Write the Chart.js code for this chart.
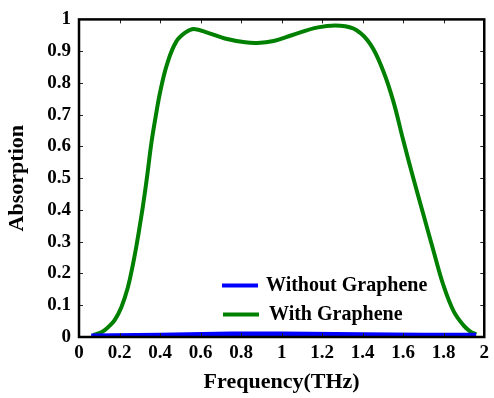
<!DOCTYPE html>
<html>
<head>
<meta charset="utf-8">
<script src="https://cdn.jsdelivr.net/npm/chart.js@4/dist/chart.umd.min.js"></script>
<style>
  html, body { margin: 0; padding: 0; background: #fff; }
  #wrap { width: 494px; height: 398px; }
</style>
</head>
<body>
<div id="wrap"><canvas id="c" width="494" height="398"></canvas></div>
<script>
  // values
  var xTicks = [0, 0.2, 0.4, 0.6, 0.8, 1, 1.2, 1.4, 1.6, 1.8, 2];
  var yTicks = [0, 0.1, 0.2, 0.3, 0.4, 0.5, 0.6, 0.7, 0.8, 0.9, 1];

  var withFreq = [0.07, 0.10, 0.127, 0.152, 0.176, 0.209, 0.241, 0.266, 0.287, 0.303, 0.315,
    0.337, 0.357, 0.38, 0.40, 0.435, 0.48, 0.528, 0.567, 0.64, 0.72, 0.82, 0.88, 0.96, 1.05,
    1.18, 1.29, 1.37, 1.44, 1.50, 1.55, 1.60, 1.65, 1.70, 1.75, 1.80, 1.85, 1.90, 1.93, 1.96];
  var withAbs = [0.006, 0.012, 0.022, 0.036, 0.053, 0.094, 0.156, 0.228, 0.30, 0.362, 0.41,
    0.51, 0.61, 0.70, 0.77, 0.86, 0.93, 0.96, 0.97, 0.957, 0.94, 0.928, 0.926, 0.932, 0.95,
    0.975, 0.98, 0.966, 0.92, 0.84, 0.745, 0.62, 0.50, 0.385, 0.27, 0.16, 0.08, 0.035, 0.018, 0.008];

  var withoutFreq = [0.06, 0.4, 0.75, 1.0, 1.4, 1.7, 1.96];
  var withoutAbs = [0.004, 0.006, 0.01, 0.01, 0.008, 0.006, 0.006];

  var FONT = '"Liberation Serif", "Times New Roman", serif';

  function toPoints(xs, ys) {
    return xs.map(function (x, i) { return { x: x, y: ys[i] }; });
  }

  function tickText(v) {
    return String(Math.round(v * 10) / 10);
  }

  // box frame + inward ticks on all four sides
  var frame = {
    id: 'frame',
    afterDraw: function (chart) {
      var ctx = chart.ctx, a = chart.chartArea;
      var sx = chart.scales.x, sy = chart.scales.y;
      ctx.save();
      ctx.strokeStyle = '#222';
      ctx.lineWidth = 1;
      ctx.beginPath();
      xTicks.forEach(function (v) {
        var px = Math.round(sx.getPixelForValue(v)) + 0.5;
        ctx.moveTo(px, a.bottom); ctx.lineTo(px, a.bottom - 4);
        ctx.moveTo(px, a.top); ctx.lineTo(px, a.top + 4);
      });
      yTicks.forEach(function (v) {
        var py = Math.round(sy.getPixelForValue(v)) + 0.5;
        ctx.moveTo(a.left, py); ctx.lineTo(a.left + 4, py);
        ctx.moveTo(a.right, py); ctx.lineTo(a.right - 4, py);
      });
      ctx.stroke();
      ctx.strokeStyle = '#000';
      ctx.lineWidth = 2.5;
      ctx.strokeRect(a.left, a.top, a.right - a.left, a.bottom - a.top);
      ctx.restore();
    }
  };

  // legend sits inside the plot, lower middle
  var innerLegend = {
    id: 'innerLegend',
    afterDatasetsDraw: function (chart) {
      var ctx = chart.ctx, a = chart.chartArea;
      var rows = [{ ds: 0, x: a.left + 143, y: a.top + 266, tx: a.left + 187 },
                  { ds: 1, x: a.left + 144, y: a.top + 295, tx: a.left + 190 }];
      ctx.save();
      ctx.font = 'bold 20px ' + FONT;
      ctx.textBaseline = 'middle';
      ctx.fillStyle = '#000';
      rows.forEach(function (r) {
        var d = chart.data.datasets[r.ds];
        ctx.strokeStyle = d.borderColor;
        ctx.lineWidth = 4;
        ctx.beginPath();
        ctx.moveTo(r.x, r.y); ctx.lineTo(r.x + 36, r.y);
        ctx.stroke();
        ctx.fillText(d.label, r.tx, r.y);
      });
      ctx.restore();
    }
  };

  new Chart(document.getElementById('c'), {
    type: 'line',
    data: {
      datasets: [{
        label: 'Without Graphene',
        data: toPoints(withoutFreq, withoutAbs),
        borderColor: '#0000ff',
        borderWidth: 4.5,
        pointRadius: 0,
        tension: 0,
        clip: false
      }, {
        label: 'With Graphene',
        data: toPoints(withFreq, withAbs),
        borderColor: '#008000',
        borderWidth: 4,
        pointRadius: 0,
        tension: 0.4,
        clip: false
      }]
    },
    options: {
      responsive: false,
      animation: false,
      events: [],
      layout: { padding: { top: 14, right: 6, left: 0, bottom: 0 } },
      plugins: { legend: { display: false }, tooltip: { enabled: false } },
      scales: {
        x: {
          type: 'linear', min: 0, max: 2,
          afterFit: function (s) { s.height = 61; },
          afterBuildTicks: function (s) { s.ticks = xTicks.map(function (v) { return { value: v }; }); },
          grid: { display: false, drawTicks: false },
          border: { display: false },
          ticks: { color: '#000', padding: 5, maxRotation: 0, autoSkip: false,
                   callback: tickText,
                   font: { family: FONT, size: 19, weight: 'bold' } },
          title: { display: true, text: 'Frequency(THz)', color: '#000', padding: { top: 0, bottom: 2 },
                   font: { family: FONT, size: 22, weight: 'bold' } }
        },
        y: {
          type: 'linear', min: 0, max: 1,
          afterFit: function (s) { s.width = 79; },
          afterBuildTicks: function (s) { s.ticks = yTicks.map(function (v) { return { value: v }; }); },
          grid: { display: false, drawTicks: false },
          border: { display: false },
          ticks: { color: '#000', padding: 8, autoSkip: false,
                   callback: tickText,
                   font: { family: FONT, size: 19, weight: 'bold' } },
          title: { display: true, text: 'Absorption', color: '#000', padding: { top: 4, bottom: 0 },
                   font: { family: FONT, size: 22, weight: 'bold' } }
        }
      }
    },
    plugins: [frame, innerLegend]
  });
</script>
</body>
</html>
